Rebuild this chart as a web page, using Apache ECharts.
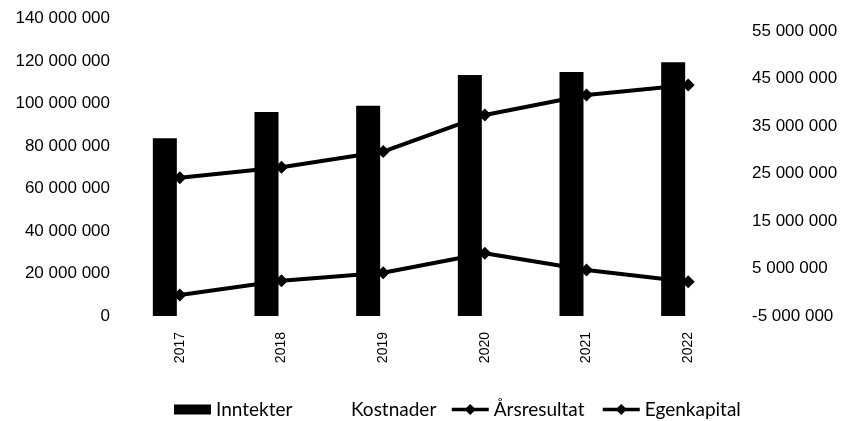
<!DOCTYPE html>
<html>
<head>
<meta charset="utf-8">
<script src="https://cdn.jsdelivr.net/npm/echarts@6/dist/echarts.min.js"></script>
<style>
  html, body { margin: 0; padding: 0; background: #fff; }
  #chart { width: 846px; height: 421px; }
</style>
</head>
<body>
<div id="chart"></div>
<script>
// år på x-aksen
const years = ['2017', '2018', '2019', '2020', '2021', '2022']
// venstre akse
const inntekter = [83600000, 96000000, 99000000, 113400000, 114800000, 119400000]
const kostnader = [84200000, 93600000, 94900000, 105200000, 110100000, 117200000]
// høyre akse
const aarsresultat = [-600000, 2400000, 4100000, 8200000, 4700000, 2200000]
const egenkapital = [24100000, 26300000, 29600000, 37300000, 41500000, 43600000]
// etiketter på høyre akse
const rightTicks = [-5000000, 5000000, 15000000, 25000000, 35000000, 45000000, 55000000]

const fmt = (v) => String(v).replace(/\B(?=(\d{3})+(?!\d))/g, ' ')

const axisFont = { fontFamily: 'Liberation Sans', fontSize: 17, color: '#000' }
const legendFont = { fontFamily: 'Lato', fontSize: 19, color: '#000' }

const chart = echarts.init(document.getElementById('chart'), null, { renderer: 'canvas' })

const lineSeries = (name, data) => ({
  name: name,
  type: 'line',
  yAxisIndex: 1,
  data: data,
  symbol: 'diamond',
  symbolSize: 13,
  z: 3,
  lineStyle: { color: '#000', width: 4 },
  itemStyle: { color: '#000' }
})

const option = {
  animation: false,
  grid: { left: 129, right: 107, top: 18.5, bottom: 105, containLabel: false },
  legend: [
    { left: 169, top: 395, icon: 'rect', itemWidth: 37, itemHeight: 10, textStyle: legendFont, data: ['Inntekter'] },
    { left: 304, top: 395, icon: 'rect', itemWidth: 37, itemHeight: 10, textStyle: legendFont, data: ['Kostnader'] },
    { left: 445, top: 395, itemWidth: 37, itemHeight: 14, lineStyle: { width: 3.5 }, textStyle: legendFont, data: ['Årsresultat'] },
    { left: 596, top: 395, itemWidth: 37, itemHeight: 14, lineStyle: { width: 3.5 }, textStyle: legendFont, data: ['Egenkapital'] }
  ],
  xAxis: {
    type: 'category',
    data: years,
    axisLine: { show: false },
    axisTick: { show: false },
    axisLabel: { rotate: 90, margin: 16, fontFamily: 'Liberation Sans', fontSize: 14, color: '#000' }
  },
  yAxis: [
    {
      type: 'value',
      min: 0,
      max: 140000000,
      interval: 20000000,
      axisLine: { show: false },
      axisTick: { show: false },
      splitLine: { show: false },
      axisLabel: { ...axisFont, margin: 19, formatter: fmt }
    },
    {
      type: 'value',
      min: -5000000,
      max: 57600000,
      axisLine: { show: false },
      axisTick: { show: false },
      splitLine: { show: false },
      axisLabel: { ...axisFont, margin: 13, customValues: rightTicks, formatter: fmt }
    }
  ],
  series: [
    {
      name: 'Inntekter',
      type: 'bar',
      data: inntekter,
      barWidth: 24,
      barGap: '25%',
      itemStyle: { color: '#000' }
    },
    {
      name: 'Kostnader',
      type: 'bar',
      data: kostnader,
      barWidth: 24,
      itemStyle: { color: '#fff' }
    },
    lineSeries('Årsresultat', aarsresultat),
    lineSeries('Egenkapital', egenkapital)
  ]
}

chart.setOption(option)
</script>
</body>
</html>
